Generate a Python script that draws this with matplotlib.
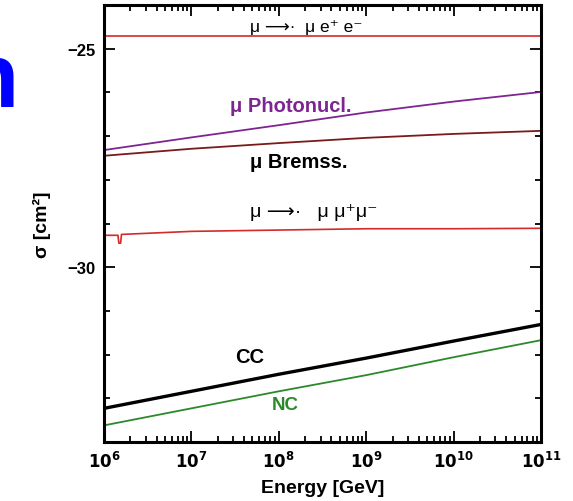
import matplotlib
matplotlib.use('Agg')
import matplotlib.pyplot as plt
from matplotlib.ticker import LogLocator, MultipleLocator, FixedLocator, NullFormatter
import numpy as np

plt.rcParams['font.family'] = ['Liberation Sans', 'DejaVu Sans']

# log10 of energy [GeV] at each decade
log_e = [6, 7, 8, 9, 10, 11]

# log10 of cross section [cm^2]
mu_ee = [-24.70, -24.70, -24.70, -24.70, -24.70, -24.70]
photonucl = [-27.32, -27.03, -26.75, -26.46, -26.21, -25.99]
bremss = [-27.45, -27.29, -27.16, -27.04, -26.95, -26.88]
# mu -> mu mu+ mu- has a small dip just above 10^6 GeV
log_e_mumu = [6.0, 6.16, 6.17, 6.19, 6.20, 7.0, 8.0, 9.0, 10.0, 11.0]
mu_mumu = [-29.27, -29.27, -29.45, -29.45, -29.25, -29.18, -29.15, -29.12, -29.12, -29.11]
cc = [-33.23, -32.84, -32.45, -32.08, -31.69, -31.31]
nc = [-33.62, -33.23, -32.84, -32.47, -32.06, -31.67]

fig = plt.figure(figsize=(5.73, 5.02), dpi=100)
ax = fig.add_axes([104/573, 1-443/502, (541-104)/573, (443-6)/502])

E = 10.0 ** np.array(log_e)
E_mm = 10.0 ** np.array(log_e_mumu)
ax.plot(E, mu_ee, color='#d42a2a', lw=1.2)
ax.plot(E, photonucl, color='#7d2590', lw=1.3)
ax.plot(E, bremss, color='#7a1a1a', lw=1.3)
ax.plot(E_mm, mu_mumu, color='#d42a2a', lw=1.2)
ax.plot(E, cc, color='black', lw=2.4)
ax.plot(E, nc, color='#2a8a2a', lw=1.3)

ax.set_xscale('log')
ax.set_xlim(1e6, 1e11)
ax.set_ylim(-34, -24)

ax.xaxis.set_major_locator(LogLocator(base=10, numticks=20))
ax.xaxis.set_minor_locator(LogLocator(base=10, subs=np.arange(2, 10), numticks=20))
ax.xaxis.set_minor_formatter(NullFormatter())
ax.set_xticks(E)
ax.set_xticklabels([r'$\mathbf{10^{%d}}$' % v for v in log_e])
ax.yaxis.set_major_locator(FixedLocator([-30, -25]))
ax.yaxis.set_minor_locator(MultipleLocator(1))
ax.set_yticklabels(['\u221230', '\u221225'])

ax.tick_params(which='both', direction='in', top=True, right=True, width=1.3)
ax.tick_params(which='major', length=8, labelsize=12, pad=6)
ax.tick_params(which='minor', length=4)
for lab in ax.get_yticklabels():
    lab.set_fontweight('bold')
for s in ax.spines.values():
    s.set_linewidth(2.2)

ax.set_xlabel('Energy [GeV]', fontsize=14, fontweight='bold', labelpad=6)
ax.set_ylabel('\u03c3 [cm\u00b2]', fontsize=14, fontweight='bold', labelpad=12)

arrow = '\u27f6\u00b7'
ax.text(4.7e7, -24.5, '\u03bc ' + arrow + '  \u03bc e\u207a e\u207b', fontsize=12.5, va='center')
ax.text(2.8e7, -26.31, '\u03bc Photonucl.', fontsize=14.5, fontweight='bold', color='#7d2590', va='center')
ax.text(4.7e7, -27.58, '\u03bc Bremss.', fontsize=14.5, fontweight='bold', color='black', va='center')
ax.text(4.7e7, -28.72, '\u03bc ' + arrow + '   \u03bc \u03bc\u207a\u03bc\u207b', fontsize=14, va='center')
ax.text(3.2e7, -32.04, 'CC', fontsize=14.5, fontweight='bold', color='black', va='center')
ax.text(8.3e7, -33.14, 'NC', fontsize=13.5, fontweight='bold', color='#2a8a2a', va='center')

# fragment of slide title cut at the left edge
fig.text(19/573, 1-107/502, 'n', fontsize=65, fontweight='bold', color='#0000ff',
         ha='right', va='baseline')

fig.savefig('out.png', dpi=100)
